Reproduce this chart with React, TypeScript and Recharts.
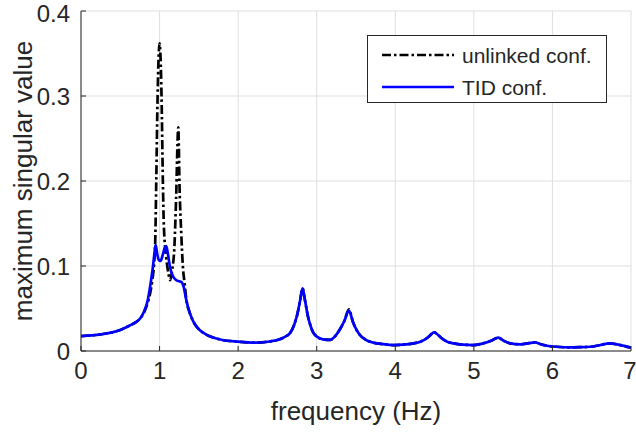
import { LineChart, Line, XAxis, YAxis, CartesianGrid, Legend, Label } from "recharts";

// frequency (Hz) / maximum singular value
const freqTid = [
  0, 0.25, 0.5, 0.62, 0.7, 0.75, 0.8, 0.85, 0.88, 0.91, 0.935, 0.95, 0.97, 0.99, 1.013, 1.04, 1.065, 1.085,
  1.105, 1.13, 1.16, 1.21, 1.25, 1.28, 1.305, 1.34, 1.38, 1.42, 1.46, 1.51, 1.6, 1.68, 1.8, 2.0, 2.2, 2.4,
  2.53, 2.6, 2.66, 2.71, 2.75, 2.79, 2.82, 2.85, 2.89, 2.92, 2.95, 3.0, 3.08, 3.17, 3.24, 3.29, 3.35, 3.41,
  3.46, 3.5, 3.55, 3.62, 3.72, 3.85, 3.97, 4.1, 4.23, 4.32, 4.4, 4.45, 4.49, 4.53, 4.59, 4.66, 4.74, 4.85,
  4.99, 5.12, 5.22, 5.31, 5.38, 5.46, 5.59, 5.7, 5.78, 5.85, 5.93, 6.05, 6.22, 6.35, 6.48, 6.6, 6.73, 6.85, 7.0,
];
const valTid = [
  0.0176, 0.0196, 0.0247, 0.03, 0.034, 0.038, 0.046, 0.06, 0.076, 0.095, 0.115, 0.125, 0.114, 0.107, 0.106, 0.113, 0.121, 0.1235,
  0.115, 0.1, 0.09, 0.0835, 0.082, 0.081, 0.076, 0.06, 0.046, 0.0365, 0.03, 0.0247, 0.019, 0.016, 0.013, 0.011, 0.0098, 0.0112,
  0.0137, 0.017, 0.021, 0.03, 0.042, 0.06, 0.0737, 0.06, 0.04, 0.03, 0.0227, 0.017, 0.0137, 0.013, 0.018, 0.0247, 0.035, 0.0474,
  0.0345, 0.026, 0.0188, 0.0135, 0.0098, 0.008, 0.007, 0.0075, 0.009, 0.011, 0.015, 0.019, 0.022, 0.02, 0.015, 0.011, 0.009, 0.0075,
  0.007, 0.009, 0.012, 0.0157, 0.012, 0.009, 0.0079, 0.0092, 0.0102, 0.008, 0.0062, 0.005, 0.0043, 0.0045, 0.005, 0.0068, 0.009, 0.0072, 0.0038,
];

const freqUnlinked = [
  0, 0.25, 0.5, 0.62, 0.7, 0.75, 0.8, 0.85, 0.88, 0.91, 0.93, 0.945, 0.958, 0.975, 1.0, 1.025, 1.042, 1.055,
  1.085, 1.115, 1.136, 1.16, 1.19, 1.21, 1.238, 1.255, 1.276, 1.297, 1.318, 1.34, 1.38, 1.42, 1.46, 1.51, 1.6, 1.68,
  1.8, 2.0, 2.2, 2.4, 2.53, 2.6, 2.66, 2.71, 2.75, 2.79, 2.82, 2.85, 2.89, 2.92, 2.95, 3.0, 3.08, 3.17, 3.24, 3.29,
  3.35, 3.41, 3.46, 3.5, 3.55, 3.62, 3.72, 3.85, 3.97, 4.1, 4.23, 4.32, 4.4, 4.45, 4.49, 4.53, 4.59, 4.66, 4.74, 4.85,
  4.99, 5.12, 5.22, 5.31, 5.38, 5.46, 5.59, 5.7, 5.78, 5.85, 5.93, 6.05, 6.22, 6.35, 6.48, 6.6, 6.73, 6.85, 7.0,
];
const valUnlinked = [
  0.0176, 0.0196, 0.0247, 0.03, 0.034, 0.038, 0.045, 0.057, 0.068, 0.085, 0.102, 0.13, 0.2, 0.3, 0.362, 0.3, 0.2, 0.146,
  0.11, 0.09, 0.0835, 0.095, 0.125, 0.178, 0.263, 0.19, 0.138, 0.099, 0.08, 0.061, 0.046, 0.0365, 0.03, 0.0247, 0.019, 0.016,
  0.013, 0.011, 0.0098, 0.0112, 0.0137, 0.017, 0.021, 0.03, 0.042, 0.06, 0.0737, 0.06, 0.04, 0.03, 0.0227, 0.017, 0.0137, 0.013, 0.018, 0.0247,
  0.035, 0.049, 0.0345, 0.026, 0.0188, 0.0135, 0.0098, 0.008, 0.007, 0.0075, 0.009, 0.011, 0.015, 0.019, 0.0225, 0.02, 0.015, 0.011, 0.009, 0.0075,
  0.007, 0.009, 0.012, 0.0157, 0.012, 0.009, 0.0079, 0.0092, 0.0102, 0.008, 0.0062, 0.005, 0.0043, 0.0045, 0.005, 0.0068, 0.009, 0.0072, 0.0038,
];

const xTicks = [0, 1, 2, 3, 4, 5, 6, 7];
const yTicks = [0, 0.1, 0.2, 0.3, 0.4];

const FONT = "'Liberation Sans', Arial, Helvetica, sans-serif";
const INK = "#262626";

const tidData = freqTid.map((f, i) => ({ f, v: valTid[i] }));
const unlinkedData = freqUnlinked.map((f, i) => ({ f, v: valUnlinked[i] }));

const MatlabLegend = () => (
  <svg width={240} height={68} style={{ display: "block" }}>
    <rect x={0.5} y={0.5} width={239} height={67} fill="#fff" stroke={INK} strokeWidth={1} />
    <line x1={15} x2={87} y1={20} y2={20} stroke="#000" strokeWidth={2.7} strokeDasharray="9 3 2.5 3" />
    <text x={95} y={27.5} fontSize={21} fill={INK} fontFamily={FONT}>unlinked conf.</text>
    <line x1={15} x2={87} y1={52} y2={52} stroke="#0000ff" strokeWidth={2.7} />
    <text x={95} y={59.5} fontSize={21} fill={INK} fontFamily={FONT}>TID conf.</text>
  </svg>
);

const YTitle = ({ viewBox }: any) => {
  const cy = viewBox.y + viewBox.height / 2;
  return (
    <text x={32} y={cy} transform={`rotate(-90, 32, ${cy})`} textAnchor="middle" fontSize={26} fill={INK} fontFamily={FONT}>
      maximum singular value
    </text>
  );
};

const XTitle = ({ viewBox }: any) => {
  const cx = viewBox.x + viewBox.width / 2;
  return (
    <text x={cx} y={420} textAnchor="middle" fontSize={26} fill={INK} fontFamily={FONT}>
      frequency (Hz)
    </text>
  );
};

export default function App() {
  const tickStyle = { fill: INK, fontSize: 24, fontFamily: FONT };
  return (
    <div style={{ position: "absolute", left: 0, top: 0, width: 636, height: 434, background: "#fff" }}>
      <LineChart width={636} height={434} margin={{ top: 11, right: 5, bottom: 0, left: 0 }}>
        <CartesianGrid stroke="#dfdfdf" strokeWidth={1} />
        <XAxis
          dataKey="f"
          type="number"
          domain={[0, 7]}
          ticks={xTicks}
          height={83}
          allowDataOverflow
          tick={tickStyle}
          tickSize={-5}
          tickMargin={16}
          axisLine={{ stroke: INK }}
          tickLine={{ stroke: INK }}
        >
          <Label content={<XTitle />} />
        </XAxis>
        <XAxis
          xAxisId="top"
          orientation="top"
          type="number"
          domain={[0, 7]}
          ticks={xTicks}
          height={0}
          tick={false}
          tickSize={-5}
          axisLine={{ stroke: INK }}
          tickLine={{ stroke: INK }}
        />
        <YAxis
          type="number"
          domain={[0, 0.4]}
          ticks={yTicks}
          width={81}
          allowDataOverflow
          tick={tickStyle}
          tickFormatter={(v: number) => String(v)}
          tickSize={-5}
          tickMargin={16}
          axisLine={{ stroke: INK }}
          tickLine={{ stroke: INK }}
        >
          <Label content={<YTitle />} />
        </YAxis>
        <YAxis
          yAxisId="right"
          orientation="right"
          type="number"
          domain={[0, 0.4]}
          ticks={yTicks}
          width={0}
          tick={false}
          tickSize={-5}
          axisLine={{ stroke: INK }}
          tickLine={{ stroke: INK }}
        />
        <Legend
          layout="horizontal"
          verticalAlign="middle"
          align="center"
          content={<MatlabLegend />}
          wrapperStyle={{ left: 367, top: 35, width: 240, height: 68 }}
        />
        <Line
          data={unlinkedData}
          dataKey="v"
          name="unlinked conf."
          type="monotone"
          stroke="#000"
          strokeWidth={2.7}
          strokeDasharray="9 3 2.5 3"
          dot={false}
          isAnimationActive={false}
        />
        <Line
          data={tidData}
          dataKey="v"
          name="TID conf."
          type="monotone"
          stroke="#0000ff"
          strokeWidth={2.7}
          dot={false}
          isAnimationActive={false}
        />
      </LineChart>
    </div>
  );
}
